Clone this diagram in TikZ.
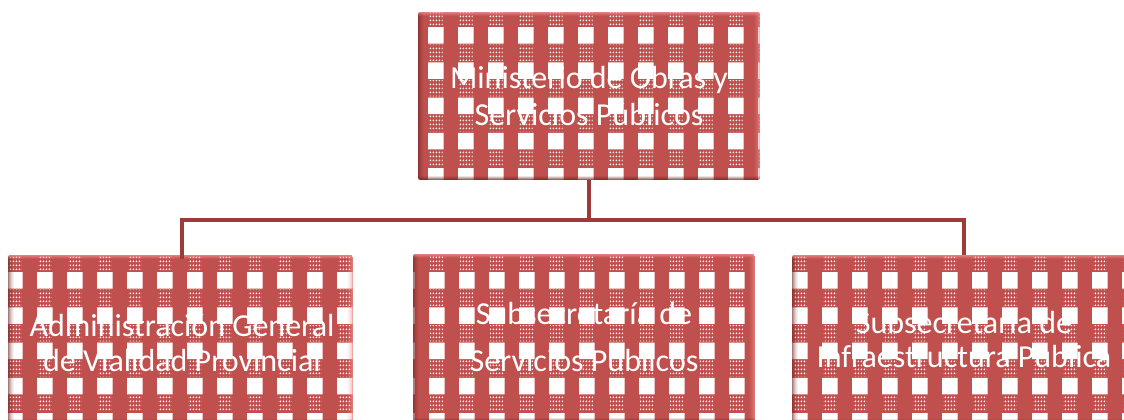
\documentclass[tikz,border=0pt]{standalone}
\usepackage{fontspec}
\usetikzlibrary{patterns}
\setmainfont{Carlito}
\definecolor{gred}{HTML}{C0504D}
\definecolor{lnred}{HTML}{9E3B39}
\definecolor{dkred}{HTML}{6E2422}
\definecolor{ltred}{HTML}{F29494}
\pgfdeclarepatternformonly{gdots}{\pgfpointorigin}{\pgfpoint{2.55pt}{2.7pt}}{\pgfpoint{2.55pt}{2.7pt}}{%
  \pgfpathcircle{\pgfpoint{1.27pt}{1.35pt}}{0.78pt}\pgfusepath{fill}}
% #1 x0, #2 y0, #3 x1, #4 y1, #5 first white column x, #6 first white row y
\newcommand\ginghambox[6]{%
  \begin{scope}
    \clip[rounded corners=2] (#1,#2) rectangle (#3,#4);
    \fill[gred] (#1,#2) rectangle (#3,#4);
    \fill[white] \foreach \i in {-1,...,12}{\foreach \j in {-1,...,5}{
        ({#5+30*\i},{#6+35.3*\j}) rectangle ++(15.5,16.5)}};
    \fill[pattern=gdots, pattern color=white] \foreach \i in {-1,...,12}{\foreach \j in {-1,...,5}{
        ({#5+30*\i+1},{#6+35.3*\j+17.5}) rectangle ++(13.5,16.5)}};
    \foreach \k/\o in {0/0.6,1/0.45,2/0.32,3/0.22,4/0.13,5/0.06}{%
      \fill[dkred,opacity=\o] (#1+\k,#2) rectangle (#1+\k+1,#4);
      \fill[ltred,opacity=\o] (#3-\k-1,#2) rectangle (#3-\k,#4);
    }
    \foreach \k/\o in {0/0.7,1/0.5,2/0.3,3/0.12}{%
      \fill[ltred,opacity=\o] (#1,#2+\k) rectangle (#3,#2+\k+1);
      \fill[dkred,opacity=\o] (#1,#4-\k-1) rectangle (#3,#4-\k);
    }
  \end{scope}}
\tikzset{
  orgbox/.style={draw=none, inner sep=0pt, minimum width=256.5pt, minimum height=126pt,
    align=center, text=white},
  conn/.style={draw=lnred, line width=2.6pt}
}
\begin{document}
\begin{tikzpicture}[x=0.75pt,y=-0.75pt]
\useasboundingbox (0,0) rectangle (1124,419);
\clip (0,0) rectangle (1124,419);
% patterned boxes
\ginghambox{418}{12}{760}{180}{428}{27}
\ginghambox{8}{255}{353}{423}{7}{272}
\ginghambox{413}{254}{755}{422}{429}{272}
\ginghambox{792}{255}{1134}{423}{792}{272}
% nodes
\node[orgbox, font=\fontsize{24pt}{27.75pt}\selectfont] (top) at (589,96) {Ministerio de Obras y\\Servicios Públicos};
\node[orgbox, font=\fontsize{24pt}{26.25pt}\selectfont] (left) at (182,343) {Administración General\\de Vialidad Provincial};
\node[orgbox, font=\fontsize{24pt}{35.25pt}\selectfont] (mid) at (584,337) {Subsecretaría de\\Servicios Públicos};
\node[orgbox, font=\fontsize{24pt}{25.5pt}\selectfont] (right) at (964,339) {Subsecretaría de\\Infraestructura Pública};
% connectors
\coordinate (bus) at (589,220);
\draw[conn] (top.south) -- (bus);
\draw[conn] (bus) -| (left.north);
\draw[conn] (bus) -| (right.north);
\end{tikzpicture}
\end{document}
